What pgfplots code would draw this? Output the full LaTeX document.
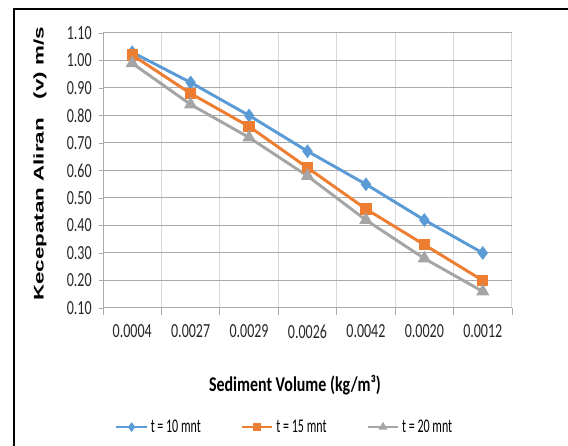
\documentclass[border=0pt]{standalone}
\usepackage{fontspec}
\usepackage{pgfplots}
\pgfplotsset{compat=1.18}
\setmainfont{Carlito}
\newfontfamily\tickfont{Carlito}[FakeStretch=0.7]
\newfontfamily\legfont{Carlito}[FakeStretch=0.62]
\newfontfamily\xlabfont{Carlito}[FakeStretch=0.76]
\newfontfamily\ylabfont{Liberation Sans}[FakeStretch=1.6]
\definecolor{cblue}{RGB}{91,155,213}
\definecolor{corange}{RGB}{237,125,49}
\definecolor{cgray}{RGB}{165,165,165}
\definecolor{hgrid}{RGB}{170,170,170}
\definecolor{vgrid}{RGB}{217,217,217}
\begin{document}
\begin{tikzpicture}
\useasboundingbox (0,0) rectangle (426pt,334.5pt);
\draw[black,line width=1.5pt] (10.5pt,-2pt) -- (10.5pt,327.75pt) -- (428pt,327.75pt);
\begin{axis}[
  at={(77.25pt,103.5pt)}, anchor=south west,
  width=306.75pt, height=206.25pt, scale only axis,
  xmin=-0.5, xmax=6.5, ymin=0.1, ymax=1.1,
  xtick={0,...,6},
  xticklabels={0.0004,0.0027,0.0029,0.0026,0.0042,0.0020,0.0012},
  minor xtick={-0.5,0.5,...,6.5},
  ytick={0.1,0.2,...,1.1},
  major x tick style={draw=none},
  minor x tick style={draw=hgrid, line width=0.6pt},
  y tick style={draw=hgrid, line width=0.6pt},
  tick align=outside, major tick length=3pt, minor tick length=5pt,
  xminorgrids=true, ymajorgrids=true, xmajorgrids=false,
  minor x grid style={vgrid, line width=0.75pt},
  major y grid style={hgrid, line width=0.75pt},
  axis line style={hgrid, line width=0.75pt},
  axis x line*=bottom, axis y line*=left,
  /pgf/number format/assume math mode=true,
  yticklabel style={/pgf/number format/fixed, /pgf/number format/fixed zerofill, /pgf/number format/precision=2},
  ticklabel style={font=\tickfont\fontsize{15}{15}\selectfont, text=black!85},
  y tick label style={xshift=-2pt},
  x tick label style={yshift=-6pt},
  legend style={draw=none, fill=none, at={(0.445,-0.433)}, anchor=center,
    legend columns=3, font=\legfont\fontsize{14.5}{15}\selectfont,
    /tikz/every even column/.append style={column sep=28pt}},
  legend image code/.code={
    \draw[#1, line width=2pt, mark size=2pt, mark repeat=2, mark phase=2] plot coordinates {(0cm,0cm) (0.4cm,0cm) (0.8cm,0cm)};},
  clip=false,
]
\addplot[cblue, line width=2.2pt, mark=diamond*, mark size=3.4pt, mark options={solid}] coordinates {
(0,1.03) (1,0.92) (2,0.80) (3,0.67) (4,0.55) (5,0.42) (6,0.30)};
\addlegendentry{t = 10 mnt}
\addplot[corange, line width=2.2pt, mark=square*, mark size=3.1pt, mark options={solid}] coordinates {
(0,1.02) (1,0.88) (2,0.76) (3,0.61) (4,0.46) (5,0.33) (6,0.20)};
\addlegendentry{t = 15 mnt}
\addplot[cgray, line width=2.2pt, mark=triangle*, mark size=3.6pt, mark options={solid}] coordinates {
(0,0.99) (1,0.84) (2,0.72) (3,0.58) (4,0.42) (5,0.28) (6,0.16)};
\addlegendentry{t = 20 mnt}
\end{axis}
\node[rotate=90, font=\ylabfont\bfseries\fontsize{10.5}{11}\selectfont] at (30pt,211.5pt) {Kecepatan Aliran\ \ \ (v) m/s};
\node[font=\xlabfont\bfseries\fontsize{15.75}{16}\selectfont] at (221.25pt,45.75pt) {Sediment Volume (kg/m³)};
\end{tikzpicture}
\end{document}
